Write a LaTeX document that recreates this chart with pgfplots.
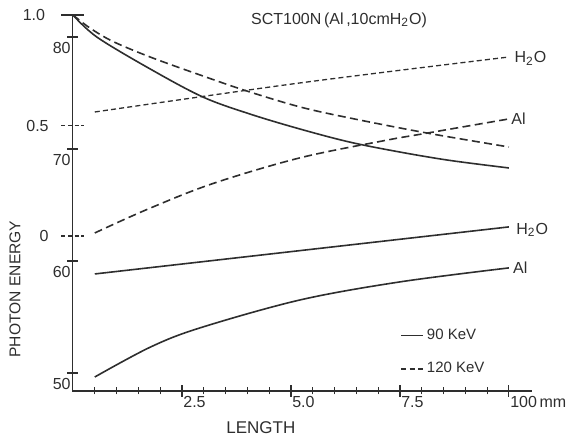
\documentclass[border=0pt]{standalone}
\usepackage{fontspec}
\setmainfont{Liberation Sans}
\usepackage{pgfplots}
\pgfplotsset{compat=1.18}

\definecolor{ink}{gray}{0.18}

\pgfplotsset{
  frame/.style={
    width=229.75pt, height=188pt, scale only axis,
    xmin=-0.011, xmax=10.53, clip=false,
    tick style={ink, line width=0.6pt},
    tick align=outside,
  },
  plain lines/.style={
    axis line style={-, ink, line width=0.7pt},
    every outer x axis line/.append style={-},
    every outer y axis line/.append style={-},
    every inner x axis line/.append style={-},
    every inner y axis line/.append style={-},
  },
  curve/.style={ink, line width=0.8pt, smooth, tension=0.55, mark=none},
  longdash/.style={dash pattern=on 4pt off 2.2pt},
  finedash/.style={line width=0.65pt, dash pattern=on 2.5pt off 1.6pt},
}

\begin{document}
\begin{tikzpicture}[font=\fontsize{8}{9.6}\selectfont, text=ink]
\useasboundingbox (-36.25pt,-24pt) rectangle (250.75pt,195.5pt);

% x axis, titles
\begin{axis}[frame,
  ymin=0, ymax=1,
  axis x line=bottom, axis y line=none,
  plain lines,
  xtick={2.5,5,7.5,10}, xticklabels={2.5,5.0,7.5,100\,mm},
  minor xtick={0.5,1,...,9.5},
  major tick length=6pt, minor tick length=3.5pt,
  xticklabel style={anchor=north west, inner sep=0pt, xshift=0.5pt, yshift=0.5pt},
  xlabel={LENGTH},
  xlabel style={at={(axis description cs:0.41,-0.098)}, anchor=center, font=\fontsize{8.5}{10}\selectfont},
  title={SCT100N\,(Al\,,10cmH\textsubscript{2}O)},
  every axis title shift=0pt,
  title style={at={(axis description cs:0.58,0.987)}, anchor=center},
]
\end{axis}

% relative scale 0 .. 1
\begin{axis}[frame,
  ymin=-0.701, ymax=1.0,
  axis x line=none, axis y line=left,
  plain lines,
  xtick=\empty,
  ytick={0,0.5}, yticklabels={0,0.5},
  extra y ticks={1}, extra y tick labels={1.0},
  extra y tick style={ytick style={solid}, yticklabel style={xshift=-1.75pt}},
  major tick length=11pt,
  ytick style={dash pattern=on 2pt off 1.3pt},
  yticklabel style={anchor=east, inner sep=0pt, xshift=-6.25pt},
  ylabel={PHOTON ENERGY},
  ylabel style={at={(axis description cs:-0.125,0.271)}, anchor=center, font=\fontsize{7.8}{9}\selectfont},
]
% 90 keV
\addplot[curve] coordinates {
  (0,1.0) (0.55,0.900) (1.77,0.756) (2.98,0.629) (4.06,0.552)
  (5.21,0.484) (6.35,0.425) (7.50,0.380) (8.65,0.342) (10,0.308)
};
% 120 keV
\addplot[curve, longdash] coordinates {
  (0,1.0) (0.39,0.941) (0.92,0.880) (1.77,0.810) (2.91,0.729) (3.99,0.656)
  (5.21,0.584) (6.35,0.534) (8.12,0.466) (10,0.403)
};
\end{axis}

% photon energy in keV
\begin{axis}[frame,
  ymin=48.39, ymax=81.96,
  axis x line=none, axis y line=left,
  plain lines,
  xtick=\empty,
  ytick={50,60,70,80},
  major tick length=5pt,
  yticklabel style={anchor=north east, inner sep=0pt, xshift=1.75pt, yshift=-2.5pt},
  /pgf/number format/assume math mode=true,
  legend style={at={(axis description cs:0.713,0.175)}, anchor=north west,
    draw=none, fill=none, inner sep=0pt, row sep=7pt,
    nodes={inner sep=1.5pt, text=ink}, font=\fontsize{7.5}{9}\selectfont},
  legend cell align=left,
  legend image code/.code={\draw[#1] (0pt,0pt) -- (11pt,0pt);},
]
\addplot[curve, finedash, forget plot] coordinates {(0.5,73.30) (5.2,75.89) (10,78.21)};
\addplot[curve, longdash, forget plot] coordinates {
  (0.5,62.50) (1.7,64.6) (3.2,66.9) (5.2,69.2) (7.15,70.75) (8.1,71.4) (10,72.68)
};
\addplot[curve, forget plot] coordinates {(0.5,58.84) (5.2,60.92) (10,63.04)};
\addplot[curve, forget plot] coordinates {
  (0.5,49.64) (1.77,52.3) (2.91,54.02) (5.21,56.52) (7.5,58.13) (10,59.38)
};
\node[anchor=west, inner sep=0pt] at (axis cs:10.12,78.1) {H\textsubscript{2}O};
\node[anchor=west, inner sep=0pt] at (axis cs:10.05,72.68) {Al};
\node[anchor=west, inner sep=0pt] at (axis cs:10.16,62.77) {H\textsubscript{2}O};
\node[anchor=west, inner sep=0pt] at (axis cs:10.09,59.38) {Al};
\addlegendimage{ink, line width=0.7pt}
\addlegendentry{90 KeV}
\addlegendimage{ink, line width=0.7pt, dash pattern=on 2.6pt off 1.6pt}
\addlegendentry{120 KeV}
\end{axis}
\end{tikzpicture}
\end{document}
